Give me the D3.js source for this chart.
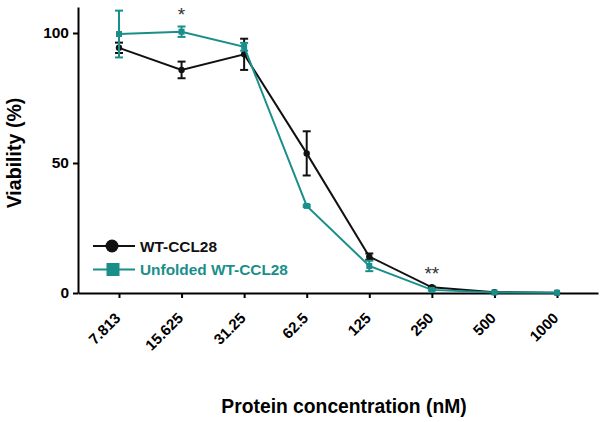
<!DOCTYPE html>
<html><head><meta charset="utf-8">
<script src="https://cdn.jsdelivr.net/npm/d3@7"></script>
<style>body{margin:0;background:#fff}svg{display:block;font-family:"Liberation Sans",Arial,sans-serif}</style>
</head><body><svg id="c" width="605" height="422"></svg>
<script>
const categories = ["7.813","15.625","31.25","62.5","125","250","500","1000"];
const wtMean = [94.3, 85.8, 91.8, 53.7, 14.0, 2.2, 0.3, 0.1];
const wtErr  = [2.0, 3.2, 6.0, 8.5, 1.2, 0.3, 0, 0];
const unfMean = [99.6, 100.5, 94.7, 33.5, 10.4, 1.2, 0.2, 0.1];
const unfErr  = [9.0, 2.0, 1.5, 0.4, 2.0, 0.3, 0, 0];
const yTicks = [0, 50, 100];
const seriesNames = ["WT-CCL28", "Unfolded WT-CCL28"];
const annotations = [{cat:"15.625", text:"*", y:21}, {cat:"250", text:"**", y:280}];

const BLACK = "#111", TEAL = "#1a8f8a";
const svg = d3.select("#c");
const x = d3.scalePoint().domain(categories).range([78, 598]).padding(0.655);
const y = d3.scaleLinear().domain([0, 110]).range([293, 7]);

// axes
const xAxis = svg.append("g").attr("transform","translate(0,293)")
  .call(d3.axisBottom(x).tickSize(5).tickSizeOuter(0));
xAxis.select(".domain").attr("stroke","#000").attr("stroke-width",2);
xAxis.selectAll(".tick line").attr("stroke","#000").attr("stroke-width",2);
xAxis.selectAll(".tick text").attr("font-size",15).attr("font-weight","bold").attr("fill","#000")
  .attr("text-anchor","end").attr("x",0).attr("y",0).attr("dx",0).attr("dy",0)
  .attr("transform","translate(2,26) rotate(-45)");

const yAxis = svg.append("g").attr("transform","translate(78,0)")
  .call(d3.axisLeft(y).tickValues(yTicks).tickSize(5).tickSizeOuter(0));
yAxis.select(".domain").attr("stroke","#000").attr("stroke-width",2);
yAxis.selectAll(".tick line").attr("stroke","#000").attr("stroke-width",2);
yAxis.selectAll(".tick text").attr("font-size",15.5).attr("font-weight","bold").attr("fill","#000").attr("x",-9);

svg.append("text").attr("transform","translate(21,153) rotate(-90)").attr("text-anchor","middle")
  .attr("font-size",19.6).attr("font-weight","bold").text("Viability (%)");
svg.append("text").attr("x",344).attr("y",413).attr("text-anchor","middle")
  .attr("font-size",19.3).attr("font-weight","bold").text("Protein concentration (nM)");

function drawSeries(means, errs, color, marker){
  const data = categories.map((c,i)=>({c, v:means[i], e:errs[i]}));
  const g = svg.append("g");
  g.append("path").datum(data).attr("fill","none").attr("stroke",color).attr("stroke-width",2)
    .attr("d", d3.line().x(d=>x(d.c)).y(d=>y(d.v)));
  const eb = g.selectAll(".eb").data(data.filter(d=>d.e>0)).join("g").attr("stroke",color).attr("stroke-width",2);
  eb.append("line").attr("x1",d=>x(d.c)).attr("x2",d=>x(d.c)).attr("y1",d=>y(d.v+d.e)).attr("y2",d=>y(d.v-d.e));
  eb.append("line").attr("x1",d=>x(d.c)-4).attr("x2",d=>x(d.c)+4).attr("y1",d=>y(d.v+d.e)).attr("y2",d=>y(d.v+d.e));
  eb.append("line").attr("x1",d=>x(d.c)-4).attr("x2",d=>x(d.c)+4).attr("y1",d=>y(d.v-d.e)).attr("y2",d=>y(d.v-d.e));
  if(marker==="circle"){
    g.selectAll("circle").data(data).join("circle").attr("cx",d=>x(d.c)).attr("cy",d=>y(d.v)).attr("r",3.2).attr("fill",color);
  } else {
    g.selectAll("rect.m").data(data).join("rect").attr("class","m").attr("x",d=>x(d.c)-3).attr("y",d=>y(d.v)-3)
      .attr("width",6).attr("height",6).attr("fill",color);
  }
}
drawSeries(wtMean, wtErr, BLACK, "circle");
drawSeries(unfMean, unfErr, TEAL, "square");

annotations.forEach(a=>{
  svg.append("text").attr("x",x(a.cat)).attr("y", a.y).attr("text-anchor","middle")
    .attr("font-size",19).attr("fill","#333").text(a.text);
});

// legend
const leg = svg.append("g");
[[seriesNames[0],BLACK,"circle",246,252],[seriesNames[1],TEAL,"square",269.5,274.5]].forEach(([name,col,m,ly,ty])=>{
  leg.append("line").attr("x1",93).attr("x2",135).attr("y1",ly).attr("y2",ly).attr("stroke",col).attr("stroke-width",2);
  if(m==="circle") leg.append("circle").attr("cx",112).attr("cy",ly).attr("r",6.5).attr("fill",col);
  else leg.append("rect").attr("x",106.5).attr("y",ly-6.5).attr("width",13).attr("height",13).attr("fill",col);
  leg.append("text").attr("x",140).attr("y",ty).attr("font-size",15.4).attr("font-weight","bold").attr("fill",col).text(name);
});
</script></body></html>
